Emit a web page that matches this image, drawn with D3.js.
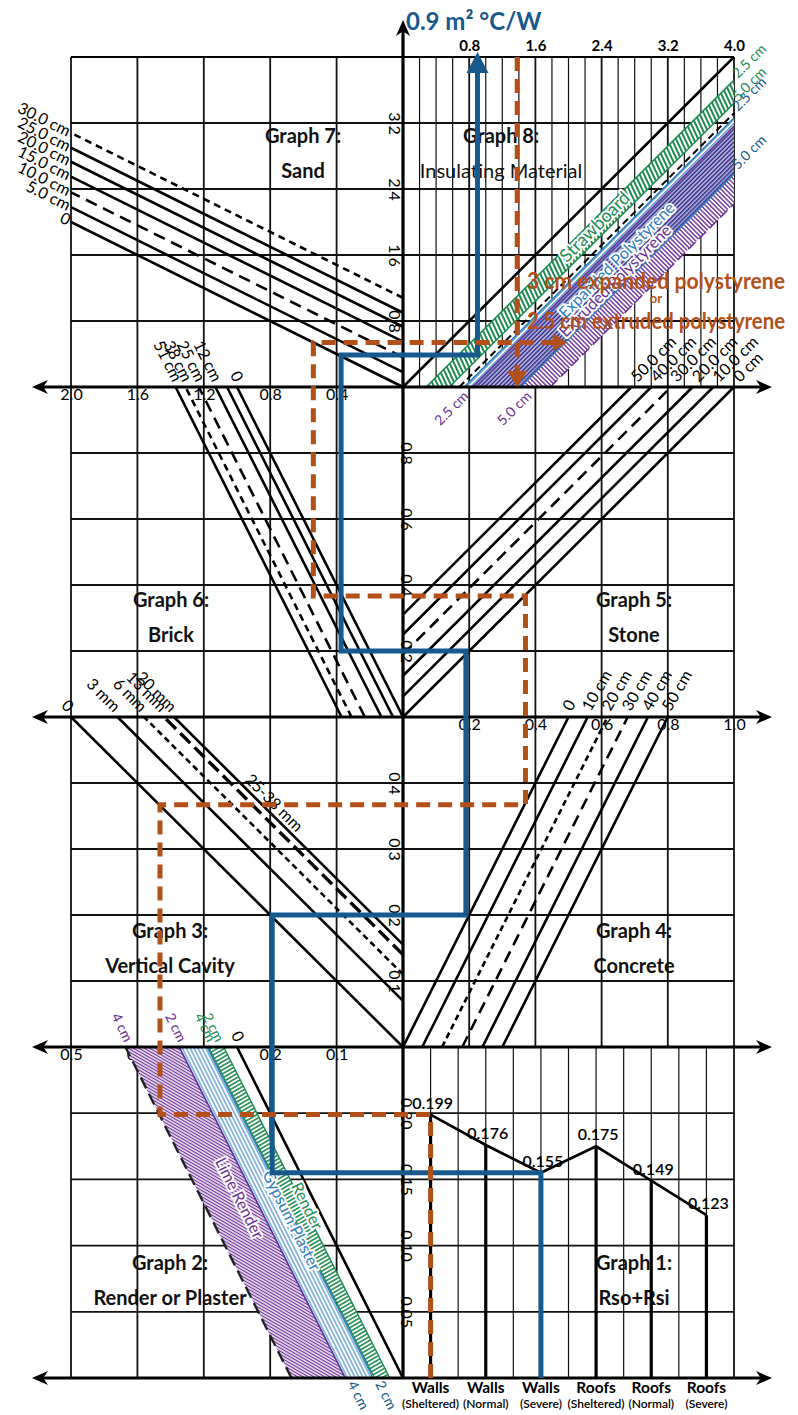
<!DOCTYPE html>
<html>
<head>
<meta charset="utf-8">
<title>Thermal resistance nomogram</title>
<script src="https://cdn.jsdelivr.net/npm/d3@7"></script>
<style>
  body { margin: 0; background: #fff; }
  svg { display: block; }
</style>
</head>
<body>
<div id="chart"></div>
<script>
// Graph 1: Rso + Rsi
const exposureType = ['Walls', 'Walls', 'Walls', 'Roofs', 'Roofs', 'Roofs'];
const exposureLevel = ['(Sheltered)', '(Normal)', '(Severe)', '(Sheltered)', '(Normal)', '(Severe)'];
const surfaceR = [0.199, 0.176, 0.155, 0.175, 0.149, 0.123];

// Graph 2: render or plaster, 2 cm and 4 cm edges of each band
const plasterNames = ['Render', 'Gypsum Plaster', 'Lime Render'];
const plasterR2 = [0.02, 0.045, 0.087];
const plasterR4 = [0.043, 0.087, 0.168];

// Graph 3: vertical cavity
const cavityLabels = ['0', '3 mm', '6 mm', '13 mm', '20 mm'];
const cavityR = [0, 0.07, 0.11, 0.14, 0.155];

// Graph 4: concrete
const concreteLabels = ['0', '10 cm', '20 cm', '30 cm', '40 cm', '50 cm'];
const concreteR = [0, 0.058, 0.118, 0.179, 0.24, 0.3];

// Graph 5: stone
const stoneLabels = ['0 cm', '10.0 cm', '20.0 cm', '30.0 cm', '40.0 cm', '50.0 cm'];
const stoneR = [0, 0.0625, 0.125, 0.19, 0.25, 0.31];

// Graph 6: brick
const brickLabels = ['0', '', '12 cm', '25 cm', '38 cm', '51 cm'];
const brickR = [0, 0.06, 0.13, 0.23, 0.31, 0.37];

// Graph 7: sand
const sandLabels = ['0', '5.0 cm', '10.0 cm', '15.0 cm', '20.0 cm', '25.0 cm', '30.0 cm'];
const sandR = [0, 0.18, 0.36, 0.55, 0.73, 0.9, 1.08];

// Graph 8: insulating material, 2.5 cm and 5.0 cm edges
const insulNames = ['Strawboard', 'Expanded Polystyrene', 'Extruded Polystyrene'];
const insulR25 = [0.28, 0.74, 0.84];
const insulR50 = [0.56, 1.42, 1.78];
const insulGuideR = 0.68;

// worked examples: Rso+Rsi, then the reading after graphs 2..8
const blueCase = 2;
const blueReadings = [0.155, 0.197, 0.2, 0.19, 0.2, 0.373, 0.387, 0.9];
const orangeCase = 0;
const orangeReadings = [0.199, 0.366, 0.367, 0.37, 0.367, 0.54, 0.54, 1.98];
const orangeResult = 1.38;

// tick values
const ticks8x = [0.8, 1.6, 2.4, 3.2, 4.0];
const ticks78y = [0.8, 1.6, 2.4, 3.2];
const ticks67x = [0.4, 0.8, 1.2, 1.6, 2.0];
const ticks56y = [0.2, 0.4, 0.6, 0.8];
const ticks45x = [0.2, 0.4, 0.6, 0.8, 1.0];
const ticks34y = [0.1, 0.2, 0.3, 0.4];
const ticks23x = [0.1, 0.2, 0.3, 0.4, 0.5];
const ticks12y = [0.05, 0.1, 0.15, 0.2];

const FONT = 'Lato, "Open Sans", "DejaVu Sans", sans-serif';
const BLUE = '#17598d', ORANGE = '#b3501a', GREEN = '#1d8a4f', PURPLE = '#6a2d94', LBLUE = '#2c7dc2';

const X0 = 403, XL = 71, XR = 734;
const Y_TOP = 57, Y_A = 387, Y_B = 717, Y_C = 1047, Y_D = 1378;

const x8 = d3.scaleLinear().domain([0, 4]).range([X0, XR]);
const y78 = d3.scaleLinear().domain([0, 4]).range([Y_A, Y_TOP]);
const x67 = d3.scaleLinear().domain([0, 2]).range([X0, XL]);
const y56 = d3.scaleLinear().domain([0, 1]).range([Y_B, Y_A]);
const x45 = d3.scaleLinear().domain([0, 1]).range([X0, XR]);
const y34 = d3.scaleLinear().domain([0, 0.5]).range([Y_C, Y_B]);
const x23 = d3.scaleLinear().domain([0, 0.5]).range([X0, XL]);
const y12 = d3.scaleLinear().domain([0, 0.25]).range([Y_D, Y_C]);
const x1 = d3.scaleBand().domain(d3.range(surfaceR.length)).range([X0, XR]);
const catX = (i) => x1(i) + x1.bandwidth() / 2;

const svg = d3
  .select('#chart')
  .append('svg')
  .attr('width', 798)
  .attr('height', 1415)
  .style('font-family', FONT);

svg.append('rect').attr('width', 798).attr('height', 1415).attr('fill', '#fff');

const defs = svg.append('defs');
function hatch(id, color, angle, gap, width, bg) {
  const p = defs
    .append('pattern')
    .attr('id', id)
    .attr('patternUnits', 'userSpaceOnUse')
    .attr('width', gap)
    .attr('height', gap)
    .attr('patternTransform', `rotate(${angle})`);
  if (bg) p.append('rect').attr('width', gap).attr('height', gap).attr('fill', bg);
  p.append('line')
    .attr('x1', gap / 2).attr('x2', gap / 2)
    .attr('y1', 0).attr('y2', gap)
    .attr('stroke', color)
    .attr('stroke-width', width);
}
hatch('g8green', GREEN, -25, 4, 2, '#fff');
hatch('g8blue', LBLUE, 45, 3.2, 1.1, '#fff');
hatch('g8purple', PURPLE, -45, 3.2, 1.4, '#fff');
hatch('g8cross', '#3b2489', 45, 3, 1.7, null);
hatch('g2green', GREEN, 60, 3.5, 1.6, '#fff');
hatch('g2blue', LBLUE, -26.6, 3.5, 1, '#fff');
hatch('g2purple', PURPLE, -60, 2.7, 1.3, '#fff');

// graph titles (lines are drawn over them)
const titles = [
  ['Graph 7:', 'Sand', 303, 143],
  ['Graph 8:', 'Insulating Material', 501, 143],
  ['Graph 6:', 'Brick', 171, 607],
  ['Graph 5:', 'Stone', 634, 607],
  ['Graph 3:', 'Vertical Cavity', 170, 938],
  ['Graph 4:', 'Concrete', 634, 938],
  ['Graph 2:', 'Render or Plaster', 170, 1270],
  ['Graph 1:', 'Rso+Rsi', 634, 1270],
];
const titleG = svg.append('g').attr('text-anchor', 'middle').attr('font-size', 20).attr('fill', '#111');
titles.forEach(([a, b, x, y]) => {
  titleG.append('text').attr('x', x).attr('y', y).attr('font-weight', 700).text(a);
  titleG
    .append('text')
    .attr('x', x)
    .attr('y', y + 35)
    .attr('font-weight', b === 'Insulating Material' ? 400 : 700)
    .text(b);
});

// tick labels through axes
function plainTicks(g) {
  g.select('.domain').remove();
  g.selectAll('.tick line').remove();
  g.attr('font-family', FONT).attr('font-size', 16).attr('fill', '#000');
}
function sideTicks(shift) {
  return (g) => {
    plainTicks(g);
    g.selectAll('.tick text')
      .attr('x', null)
      .attr('dy', null)
      .attr('text-anchor', 'middle')
      .attr('transform', `translate(${shift},0) rotate(90)`);
  };
}
const f1 = d3.format('.1f');
svg.append('g').attr('transform', `translate(0,${Y_TOP})`)
  .call(d3.axisTop(x8).tickValues(ticks8x).tickFormat(f1).tickSize(0).tickPadding(6))
  .call(plainTicks)
  .attr('font-size', 15)
  .attr('font-weight', 700);
svg.append('g').attr('transform', `translate(0,${Y_A})`)
  .call(d3.axisBottom(x67).tickValues(ticks67x).tickFormat(f1).tickSize(0).tickPadding(2))
  .call(plainTicks);
svg.append('g').attr('transform', `translate(0,${Y_B})`)
  .call(d3.axisBottom(x45).tickValues(ticks45x).tickFormat(f1).tickSize(0).tickPadding(2))
  .call(plainTicks);
svg.append('g').attr('transform', `translate(0,${Y_C})`)
  .call(d3.axisBottom(x23).tickValues(ticks23x).tickFormat(f1).tickSize(0).tickPadding(2))
  .call(plainTicks);
svg.append('g').attr('transform', `translate(${X0},0)`)
  .call(d3.axisLeft(y78).tickValues(ticks78y).tickFormat(f1).tickSize(0))
  .call(sideTicks(-14));
svg.append('g').attr('transform', `translate(${X0},0)`)
  .call(d3.axisRight(y56).tickValues(ticks56y).tickFormat(f1).tickSize(0))
  .call(sideTicks(-2));
svg.append('g').attr('transform', `translate(${X0},0)`)
  .call(d3.axisLeft(y34).tickValues(ticks34y).tickFormat(f1).tickSize(0))
  .call(sideTicks(-14));
svg.append('g').attr('transform', `translate(${X0},0)`)
  .call(d3.axisRight(y12).tickValues(ticks12y).tickFormat(d3.format('.2f')).tickSize(0))
  .call(sideTicks(-2));

// grid
const grid = svg.append('g').attr('stroke', '#111').attr('stroke-width', 1.8);
const hLine = (y) => grid.append('line').attr('x1', XL).attr('x2', XR).attr('y1', y).attr('y2', y);
const vLine = (x, ya, yb, w) =>
  grid.append('line').attr('x1', x).attr('x2', x).attr('y1', ya).attr('y2', yb).attr('stroke-width', w || 1.8);
[4.0].concat(ticks78y).forEach((v) => hLine(y78(v)));
ticks56y.forEach((v) => hLine(y56(v)));
ticks34y.forEach((v) => hLine(y34(v)));
ticks12y.forEach((v) => hLine(y12(v)));
ticks67x.forEach((v) => vLine(x67(v), Y_TOP, Y_D));
vLine(XR, Y_TOP, Y_D);
d3.range(1, 20).forEach((k) => vLine(x8(k * 0.2), Y_TOP, Y_A, k % 4 === 0 ? 1.8 : 1.2));
ticks45x.slice(0, 4).forEach((v) => vLine(x45(v), Y_A, Y_C));
d3.range(1, 12).forEach((k) => vLine(X0 + (k * x1.bandwidth()) / 2, Y_C, Y_D, 1.2));

// helpers
const lineGen = d3.line();
function seg(g, pts, opts) {
  return g
    .append('path')
    .attr('d', lineGen(pts))
    .attr('fill', 'none')
    .attr('stroke', opts.color || '#000')
    .attr('stroke-width', opts.width || 2.6)
    .attr('stroke-dasharray', opts.dash || null);
}
function rotLabel(g, x, y, angle, anchor, txt, color, size) {
  g.append('text')
    .attr('transform', `translate(${x},${y}) rotate(${angle})`)
    .attr('text-anchor', anchor)
    .attr('font-size', size || 16)
    .attr('fill', color || '#000')
    .text(txt);
}

// Graph 8 bands
const bands = svg.append('g');
const band8 = (r1, r2) => [[r1, 0], [r2, 0], [4, 4 - r2], [4, 4 - r1]].map(([x, y]) => [x8(x), y78(y)]);
const fills8 = ['url(#g8green)', 'url(#g8blue)', 'url(#g8purple)'];
const edge8 = [GREEN, LBLUE, PURPLE];
[2, 1, 0].forEach((i) => {
  bands.append('path').attr('d', lineGen(band8(insulR25[i], insulR50[i])) + 'Z').attr('fill', fills8[i]);
});
bands.append('path')
  .attr('d', lineGen(band8(insulR25[2], insulR50[1])) + 'Z')
  .attr('fill', 'url(#g8cross)');
const edge8Line = (r) => [[x8(r), y78(0)], [x8(4), y78(4 - r)]];
insulNames.forEach((n, i) => {
  seg(bands, edge8Line(insulR25[i]), { color: edge8[i], width: 1.5 });
  seg(bands, edge8Line(insulR50[i]), { color: edge8[i], width: 1.5, dash: i === 2 ? '10,5' : null });
});
seg(bands, edge8Line(insulGuideR), { width: 2, dash: '7,4' });

// Graph 2 bands
const band2 = (r1, r2) =>
  [[r1, 0], [r2, 0], [0.25 + r2, 0.25], [0.25 + r1, 0.25]].map(([x, y]) => [x23(x), y12(y)]);
const fills2 = ['url(#g2green)', 'url(#g2blue)', 'url(#g2purple)'];
const edge2Line = (r) => [[x23(r), y12(0)], [x23(0.25 + r), y12(0.25)]];
plasterNames.forEach((n, i) => {
  bands.append('path').attr('d', lineGen(band2(plasterR2[i], plasterR4[i])) + 'Z').attr('fill', fills2[i]);
});
plasterNames.forEach((n, i) => {
  seg(bands, edge2Line(plasterR2[i]), { color: edge8[i], width: 1.4 });
  seg(bands, edge2Line(plasterR4[i]), { color: i === 2 ? '#222' : edge8[i], width: i === 2 ? 2.4 : 1.4, dash: i === 2 ? '12,6' : null });
});
seg(bands, edge2Line(0), { width: 2.6 });

// band names
const bandText = svg.append('g')
  .attr('paint-order', 'stroke')
  .attr('stroke', '#fff')
  .attr('stroke-width', 4)
  .attr('stroke-linejoin', 'round');
const g8LabelY = [1.95, 1.55, 1.3];
const g8LabelSize = [18, 16, 16];
insulNames.forEach((n, i) => {
  const r = (insulR25[i] + insulR50[i]) / 2;
  rotLabel(bandText, x8(g8LabelY[i] + r), y78(g8LabelY[i]) + 5, -45, 'middle', n, edge8[i], g8LabelSize[i]);
});
const g2LabelY = [0.128, 0.117, 0.134];
plasterNames.forEach((n, i) => {
  const r = (plasterR2[i] + plasterR4[i]) / 2;
  rotLabel(bandText, x23(g2LabelY[i] + r) + 5, y12(g2LabelY[i]), 63.4, 'middle', n, edge8[i], 16);
});

// material lines
const curves = svg.append('g');
const labels = svg.append('g');

const sandDash = [null, null, '12,7', null, null, null, '7,5'];
sandR.forEach((r, i) => {
  seg(curves, [[x67(0), y78(r)], [x67(2), y78(2 + r)]], { dash: sandDash[i] });
  rotLabel(labels, x67(2) - 4, y78(2 + r) + 4, 26.4, 'end', sandLabels[i]);
});

const brickDash = [null, null, null, '12,7', '7,5', null];
brickR.forEach((r, i) => {
  seg(curves, [[x67(r), y56(0)], [x67(1 + r), y56(1)]], { dash: brickDash[i] });
  if (brickLabels[i]) rotLabel(labels, x67(1 + r) - 3, y56(1) - 4, 63.4, 'end', brickLabels[i]);
});

const stoneDash = [null, null, null, '12,7', null, null];
stoneR.forEach((r, i) => {
  seg(curves, [[x45(0), y56(r)], [x45(1 - r), y56(1)]], { dash: stoneDash[i] });
  rotLabel(labels, x45(1 - r) + 6, y56(1) - 4, -45, 'start', stoneLabels[i]);
});

const concreteDash = [null, null, '6,4', '12,7', null, null];
concreteR.forEach((r, i) => {
  seg(curves, [[x45(r), y34(0)], [x45(0.5 + r), y34(0.5)]], { dash: concreteDash[i] });
  rotLabel(labels, x45(0.5 + r) + 3, y34(0.5) - 5, -60, 'start', concreteLabels[i]);
});

const cavityDash = [null, null, '6,4', '14,6', null];
cavityR.forEach((r, i) => {
  seg(curves, [[x23(0), y34(r)], [x23(0.5 - r), y34(0.5)]], {
    dash: cavityDash[i],
    width: i === 3 ? 3.4 : 2.6,
  });
  rotLabel(labels, x23(0.5 - r) - 4, y34(0.5) - 4, 45, 'end', cavityLabels[i]);
});
rotLabel(labels, x23(0.2), y34(0.2 + cavityR[4]) - 6, 45, 'middle', '25-38 mm');

// Graph 2 edge labels
rotLabel(labels, x23(0.25) - 2, Y_C - 4, 63.4, 'end', '0');
rotLabel(labels, x23(0.25 + plasterR2[0]) - 8, Y_C - 4, 63.4, 'end', '2 cm', GREEN, 14);
rotLabel(labels, x23(0.25 + plasterR4[0]) - 1, Y_C - 4, 63.4, 'end', '4 cm', GREEN, 14);
rotLabel(labels, x23(0.25 + plasterR2[2]) - 1, Y_C - 4, 63.4, 'end', '2 cm', PURPLE, 14);
rotLabel(labels, x23(0.25 + plasterR4[2]) - 1, Y_C - 4, 63.4, 'end', '4 cm', PURPLE, 14);
rotLabel(labels, x23(plasterR4[1]) + 2, Y_D + 6, 63.4, 'start', '4 cm', BLUE, 14);
rotLabel(labels, x23(plasterR2[1]) + 2, Y_D + 6, 63.4, 'start', '2 cm', BLUE, 14);

// Graph 8 edge labels
seg(curves, [[x8(0), y78(0)], [x8(4), y78(4)]], {});
rotLabel(labels, XR + 4, y78(4 - insulR25[0]) - 1, -45, 'start', '2.5 cm', GREEN, 14);
rotLabel(labels, XR + 4, y78(4 - insulR50[0]) - 1, -45, 'start', '5.0 cm', GREEN, 14);
rotLabel(labels, XR + 4, y78(4 - insulR25[1]) - 6, -45, 'start', '2.5 cm', BLUE, 14);
rotLabel(labels, XR + 4, y78(4 - insulR50[1]) - 4, -45, 'start', '5.0 cm', BLUE, 14);
rotLabel(labels, x8(insulR25[2]) - 3, Y_A + 10, -45, 'end', '2.5 cm', PURPLE, 14);
rotLabel(labels, x8(insulR50[2]) - 18, Y_A + 10, -45, 'end', '5.0 cm', PURPLE, 14);

// axes with arrowheads
const axes = svg.append('g');
function arrowHead(x, y, dx, dy) {
  const L = 16, w = 7;
  const px = -dy, py = dx;
  axes.append('path')
    .attr('d', `M${x},${y}L${x - dx * L + px * w},${y - dy * L + py * w}L${x - dx * L * 0.7},${y - dy * L * 0.7}L${x - dx * L - px * w},${y - dy * L - py * w}Z`)
    .attr('fill', '#000');
}
[Y_A, Y_B, Y_C, Y_D].forEach((y) => {
  axes.append('line').attr('x1', 40).attr('x2', 764).attr('y1', y).attr('y2', y)
    .attr('stroke', '#000').attr('stroke-width', 3.2);
  arrowHead(32, y, -1, 0);
  arrowHead(772, y, 1, 0);
});
axes.append('line').attr('x1', X0).attr('x2', X0).attr('y1', Y_D).attr('y2', 28)
  .attr('stroke', '#000').attr('stroke-width', 3.2);
arrowHead(X0, 20, 0, -1);
axes.append('line').attr('x1', XL).attr('x2', XR).attr('y1', Y_TOP).attr('y2', Y_TOP)
  .attr('stroke', '#000').attr('stroke-width', 1.8);

// Graph 1
const g1 = svg.append('g');
surfaceR.forEach((v, i) => {
  seg(g1, [[catX(i), y12(v)], [catX(i), y12(0)]], { width: 3.2 });
});
seg(g1, surfaceR.map((v, i) => [catX(i), y12(v)]), { width: 2.6 });
g1.selectAll('text.val')
  .data(surfaceR)
  .join('text')
  .attr('x', (d, i) => catX(i) + 2)
  .attr('y', (d) => y12(d) - 6)
  .attr('text-anchor', 'middle')
  .attr('font-size', 16)
  .attr('font-weight', 600)
  .text((d) => d3.format('.3f')(d));
g1.selectAll('text.cat')
  .data(exposureType)
  .join('text')
  .attr('x', (d, i) => catX(i))
  .attr('y', Y_D + 15)
  .attr('text-anchor', 'middle')
  .attr('font-size', 15.5)
  .attr('font-weight', 700)
  .text((d) => d);
g1.selectAll('text.exp')
  .data(exposureLevel)
  .join('text')
  .attr('x', (d, i) => catX(i))
  .attr('y', Y_D + 30)
  .attr('text-anchor', 'middle')
  .attr('font-size', 12)
  .attr('font-weight', 600)
  .text((d) => d);

// worked examples
function walk(cat, v) {
  const px = catX(cat);
  return [
    [px, y12(0)], [px, y12(v[0])],
    [x23(v[1]), y12(v[0])], [x23(v[1]), y34(v[2])],
    [x45(v[3]), y34(v[2])], [x45(v[3]), y56(v[4])],
    [x67(v[5]), y56(v[4])], [x67(v[5]), y78(v[6])],
    [x8(v[7]), y78(v[6])],
  ];
}
const ex = svg.append('g').attr('stroke-linejoin', 'miter');
const bluePts = walk(blueCase, blueReadings);
bluePts.push([x8(blueReadings[7]), y78(4) + 14]);
seg(ex, bluePts, { color: BLUE, width: 5 });
ex.append('path')
  .attr('d', d3.line()([[x8(blueReadings[7]) - 11, y78(4) + 16], [x8(blueReadings[7]), y78(4) - 5], [x8(blueReadings[7]) + 11, y78(4) + 16]]) + 'Z')
  .attr('fill', BLUE);

const orangePts = walk(orangeCase, orangeReadings);
orangePts[orangePts.length - 1][0] -= 12;
seg(ex, orangePts, { color: ORANGE, width: 5, dash: '14,8' });
const oy = y78(orangeReadings[6]);
const ox = x8(orangeReadings[7]);
ex.append('path')
  .attr('d', d3.line()([[ox - 14, oy - 9], [ox, oy], [ox - 14, oy + 9]]) + 'Z')
  .attr('fill', ORANGE);
const rx = x8(orangeResult);
seg(ex, [[rx, y78(4)], [rx, y78(0) - 14]], { color: ORANGE, width: 5, dash: '14,8' });
ex.append('path')
  .attr('d', d3.line()([[rx - 10, y78(0) - 16], [rx, y78(0)], [rx + 10, y78(0) - 16]]) + 'Z')
  .attr('fill', ORANGE);

// annotations
svg.append('text')
  .attr('x', 406)
  .attr('y', 30)
  .attr('font-size', 24)
  .attr('font-weight', 700)
  .attr('fill', BLUE)
  .text('0.9 m² °C/W');
const note = svg.append('g').attr('fill', ORANGE).attr('font-weight', 700).attr('text-anchor', 'middle');
note.append('text').attr('x', 656).attr('y', 289).attr('font-size', 22)
  .attr('textLength', 258).attr('lengthAdjust', 'spacingAndGlyphs').text('3 cm expanded polystyrene');
note.append('text').attr('x', 656).attr('y', 303).attr('font-size', 13).text('or');
note.append('text').attr('x', 656).attr('y', 329).attr('font-size', 22)
  .attr('textLength', 258).attr('lengthAdjust', 'spacingAndGlyphs').text('2.5 cm extruded polystyrene');
</script>
</body>
</html>
